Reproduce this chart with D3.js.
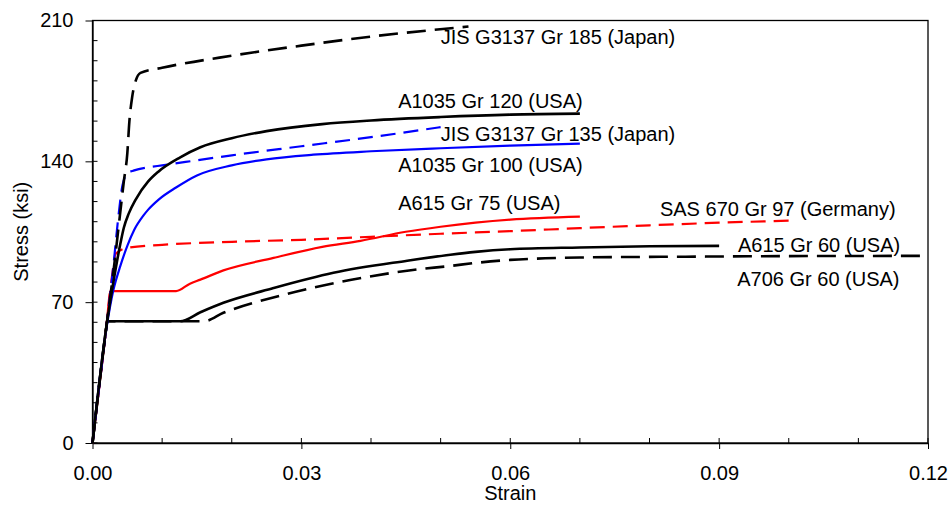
<!DOCTYPE html>
<html>
<head>
<meta charset="utf-8">
<script src="https://cdn.jsdelivr.net/npm/d3@7"></script>
<style>
  body { margin: 0; background: #fff; }
  svg { display: block; font-family: "Liberation Sans", Arial, sans-serif; }
</style>
</head>
<body>
<div class="canvas"></div>
<script>
// stress-strain curves, [strain, stress (ksi)]
var jis185 = [[0,0],[0.002,58],[0.003,85],[0.004,115],[0.0045,130],[0.005,144],[0.0053,160],[0.0057,172],[0.0062,180],[0.0069,184],[0.01,186.5],[0.02,192.5],[0.03,197.5],[0.04,202],[0.054,207]]
var a1035_120 = [[0,0],[0.002,58],[0.003,80],[0.004,99],[0.0045,107],[0.0052,114],[0.0062,121],[0.008,130],[0.0095,135],[0.0126,142],[0.0155,147],[0.02,151.5],[0.025,155],[0.033,158.5],[0.04,160.3],[0.05,162],[0.06,163.2],[0.07,163.7]]
var jis135 = [[0,0],[0.002,58],[0.003,88],[0.0037,112],[0.0043,128],[0.005,134],[0.006,135.5],[0.008,137],[0.01,138],[0.02,143],[0.03,147.5],[0.04,152],[0.05,157]]
var a1035_100 = [[0,0],[0.002,57],[0.003,76],[0.004,88],[0.005,98],[0.006,106],[0.0073,113],[0.008,116],[0.0095,121],[0.012,127],[0.015,133],[0.02,138],[0.025,141],[0.0317,143.3],[0.04,145],[0.05,146.5],[0.06,147.8],[0.07,148.8]]
var a615_75 = [[0,0],[0.002,58],[0.0026,75.5],[0.012,75.5],[0.014,79.2],[0.0155,81.2],[0.0188,85.8],[0.026,92],[0.033,97.5],[0.0385,100.5],[0.045,105],[0.05,107.5],[0.055,109.5],[0.06,111],[0.07,112.5]]
var sas97 = [[0,0],[0.002,58],[0.003,88],[0.0033,94],[0.005,97],[0.01,98.5],[0.02,100],[0.03,101],[0.04,102.5],[0.05,104],[0.06,105.3],[0.07,106.8],[0.08,108.2],[0.09,109.5],[0.1,110.5]]
var a615_60 = [[0,0],[0.002,58],[0.0021,60.5],[0.0126,60.5],[0.0155,65],[0.0188,69.7],[0.026,77],[0.0346,84.6],[0.0452,90.6],[0.0514,93.6],[0.055,95],[0.06,96.3],[0.07,97.2],[0.08,97.8],[0.09,98]]
var a706_60 = [[0,0],[0.002,58],[0.0021,60.5],[0.016,60.5],[0.0188,64.7],[0.0274,73.6],[0.037,81],[0.046,86],[0.0514,88],[0.055,89.5],[0.06,91],[0.065,91.8],[0.07,92.2],[0.08,92.5],[0.09,92.7],[0.1,92.9],[0.12,93]]

var seriesNames = ["A706 Gr 60 (USA)", "A615 Gr 60 (USA)", "SAS 670 Gr 97 (Germany)", "A615 Gr 75 (USA)",
                   "A1035 Gr 100 (USA)", "JIS G3137 Gr 135 (Japan)", "A1035 Gr 120 (USA)", "JIS G3137 Gr 185 (Japan)"]
var seriesData = [a706_60, a615_60, sas97, a615_75, a1035_100, jis135, a1035_120, jis185]
var seriesColor = ["#000", "#000", "#f00", "#f00", "#00f", "#00f", "#000", "#000"]
var seriesDash = [true, false, true, false, false, true, false, true]

// where each name sits, [strain, stress] of its left baseline
var labelAt = [[0.0926,78.1],[0.0927,94.7],[0.0815,112.6],[0.0439,115.6],[0.0439,134.5],[0.05,150],[0.0439,166.4],[0.05,198.5]]

var xMajor = [0, 0.03, 0.06, 0.09, 0.12]
var xMinor = d3.range(0, 0.1201, 0.01)
var yMajor = [0, 70, 140, 210]
var yMinor = d3.range(0, 211, 10)

var width = 948, height = 509
var x = d3.scaleLinear().domain([0, 0.12]).range([92.5, 928])
var y = d3.scaleLinear().domain([0, 210]).range([443, 20.5])

var svg = d3.select(".canvas").append("svg")
    .attr("width", width)
    .attr("height", height)

// frame
svg.append("rect")
    .attr("x", x(0)).attr("y", y(210))
    .attr("width", x(0.12) - x(0)).attr("height", y(0) - y(210))
    .attr("fill", "none").attr("stroke", "#000").attr("stroke-width", 1.3)

// minor ticks, pointing into the plot
svg.append("g").selectAll("line").data(xMinor).join("line")
    .attr("x1", d => x(d)).attr("x2", d => x(d))
    .attr("y1", y(0)).attr("y2", y(0) - 5)
    .attr("stroke", "#000")
svg.append("g").selectAll("line").data(yMinor).join("line")
    .attr("x1", x(0)).attr("x2", x(0) + 5)
    .attr("y1", d => y(d)).attr("y2", d => y(d))
    .attr("stroke", "#000")

var xAxis = svg.append("g")
    .attr("transform", "translate(0," + y(0) + ")")
    .call(d3.axisBottom(x).tickValues(xMajor).tickFormat(d3.format(".2f")).tickSize(6).tickSizeOuter(0).tickPadding(17))
var yAxis = svg.append("g")
    .attr("transform", "translate(" + x(0) + ",0)")
    .call(d3.axisLeft(y).tickValues(yMajor).tickSize(7).tickSizeOuter(0).tickPadding(12))

;[xAxis, yAxis].forEach(function(a) {
  a.select(".domain").attr("stroke", "#000").attr("stroke-width", 1.3)
  a.selectAll(".tick line").attr("stroke", "#000")
  a.selectAll("text").attr("font-size", 20).attr("fill", "#000")
      .attr("font-family", "'Liberation Sans', Arial, sans-serif")
})

svg.append("text")
    .attr("x", (x(0) + x(0.12)) / 2).attr("y", 500)
    .attr("text-anchor", "middle").attr("font-size", 20)
    .text("Strain")
svg.append("text")
    .attr("transform", "translate(28," + (y(0) + y(210)) / 2 + ") rotate(-90)")
    .attr("text-anchor", "middle").attr("font-size", 20)
    .text("Stress (ksi)")

var line = d3.line()
    .x(d => x(d[0]))
    .y(d => y(d[1]))
    .curve(d3.curveMonotoneX)

svg.append("g").selectAll("path").data(seriesData).join("path")
    .attr("d", line)
    .attr("fill", "none")
    .attr("stroke", (d, i) => seriesColor[i])
    .attr("stroke-width", (d, i) => seriesColor[i] == "#000" ? 2.6 : 2.2)
    .attr("stroke-dasharray", (d, i) => seriesDash[i] ? (seriesColor[i] == "#000" ? "19,9" : "15,8") : null)

svg.append("g").selectAll("text").data(seriesNames).join("text")
    .attr("x", (d, i) => x(labelAt[i][0]))
    .attr("y", (d, i) => y(labelAt[i][1]))
    .attr("font-size", 20)
    .attr("fill", "#000")
    .text(d => d)
</script>
</body>
</html>
